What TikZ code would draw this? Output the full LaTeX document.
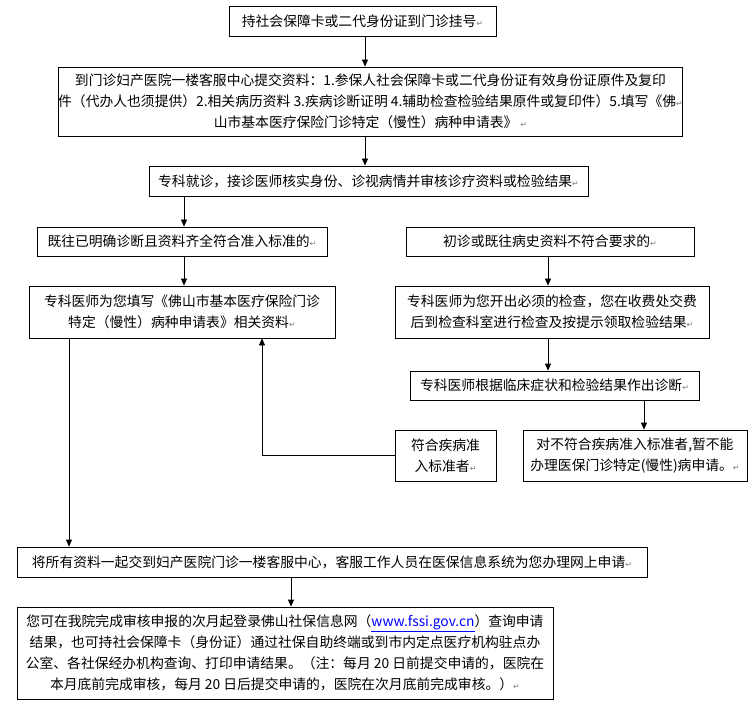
\documentclass[tikz,border=0pt]{standalone}
\usepackage{fontspec}
\setmainfont{Noto Sans CJK SC}
\newfontfamily\dvfont{DejaVu Sans}
\usetikzlibrary{arrows.meta}
\newcommand{\retmark}{{\dvfont\fontsize{8}{8}\selectfont\textcolor{gray}{↵}}}
\begin{document}
\begin{tikzpicture}[x=1pt,y=-1pt,
  box/.style={draw, line width=0.8pt, inner sep=0pt, align=center, font=\fontsize{13.8}{21}\selectfont},
  arr/.style={line width=0.8pt, -{Triangle[length=7pt,width=6pt]}},
  ln/.style={line width=0.8pt}]
\fill[white] (0,0) rectangle (754,708);
\useasboundingbox (0,0) rectangle (754,708);

\node[box, minimum width=267pt, minimum height=30pt] (b1) at (362.5,21) {持社会保障卡或二代身份证到门诊挂号\retmark};
\node[box, minimum width=623pt, minimum height=69pt] (b2) at (370.5,101.5) {到门诊妇产医院一楼客服中心提交资料：1.参保人社会保障卡或二代身份证有效身份证原件及复印\\件（代办人也须提供）2.相关病历资料 3.疾病诊断证明 4.辅助检查检验结果原件或复印件）5.填写《佛\retmark\\山市基本医疗保险门诊特定（慢性）病种申请表》 \retmark};
\node[box, minimum width=439pt, minimum height=30pt] (b3) at (368.5,181) {专科就诊，接诊医师核实身份、诊视病情并审核诊疗资料或检验结果\retmark};
\node[box, minimum width=290pt, minimum height=29pt] (b4l) at (182,241.5) {既往已明确诊断且资料齐全符合准入标准的\retmark};
\node[box, minimum width=288pt, minimum height=29pt] (b4r) at (550,241.5) {初诊或既往病史资料不符合要求的\retmark};
\node[box, minimum width=306pt, minimum height=52pt] (b5l) at (182,312) {专科医师为您填写《佛山市基本医疗保险门诊\\特定（慢性）病种申请表》相关资料\retmark};
\node[box, minimum width=314pt, minimum height=52pt] (b5r) at (552,312) {专科医师为您开出必须的检查，您在收费处交费\\后到检查科室进行检查及按提示领取检验结果\retmark};
\node[box, minimum width=289pt, minimum height=29pt] (b6) at (554.5,385.5) {专科医师根据临床症状和检验结果作出诊断\retmark};
\node[box, minimum width=101pt, minimum height=51pt] (bs) at (445.5,455.5) {符合疾病准\\入标准者\retmark};
\node[box, minimum width=224pt, minimum height=51pt] (b7) at (635,455.5) {对不符合疾病准入标准者,暂不能\\办理医保门诊特定(慢性)病申请。\retmark};
\node[box, minimum width=630pt, minimum height=30pt] (b8) at (332,562) {将所有资料一起交到妇产医院门诊一楼客服中心，客服工作人员在医保信息系统为您办理网上申请\retmark};
\node[box, minimum width=536pt, minimum height=92pt] (b9) at (285,653) {您可在我院完成审核申报的次月起登录佛山社保信息网（\textcolor{blue}{\underline{www.fssi.gov.cn}}）查询申请\\结果，也可持社会保障卡（身份证）通过社保自助终端或到市内定点医疗机构驻点办\\公室、各社保经办机构查询、打印申请结果。（注：每月 20 日前提交申请的，医院在\\本月底前完成审核，每月 20 日后提交申请的，医院在次月底前完成审核。）\retmark};

\coordinate (xa) at (365,0);
\coordinate (xb) at (184,0);
\coordinate (xc) at (548,0);
\coordinate (xd) at (644,0);
\coordinate (xe) at (262,0);
\coordinate (xf) at (69,0);
\coordinate (xg) at (291,0);

\draw[arr] (xa |- b1.south) -- (xa |- b2.north);
\draw[arr] (xa |- b2.south) -- (xa |- b3.north);
\draw[arr] (xb |- b3.south) -- (xb |- b4l.north);
\draw[arr] (xb |- b4l.south) -- (xb |- b5l.north);
\draw[arr] (xc |- b4r.south) -- (xc |- b5r.north);
\draw[arr] (xc |- b5r.south) -- (xc |- b6.north);
\draw[arr] (xd |- b6.south) -- (xd |- b7.north);
\draw[arr] (bs.west) -| (xe |- b5l.south);
\draw[arr] (xf |- b5l.south) -- (xf |- b8.north);
\draw[arr] (xg |- b8.south) -- (xg |- b9.north);
\end{tikzpicture}
\end{document}
